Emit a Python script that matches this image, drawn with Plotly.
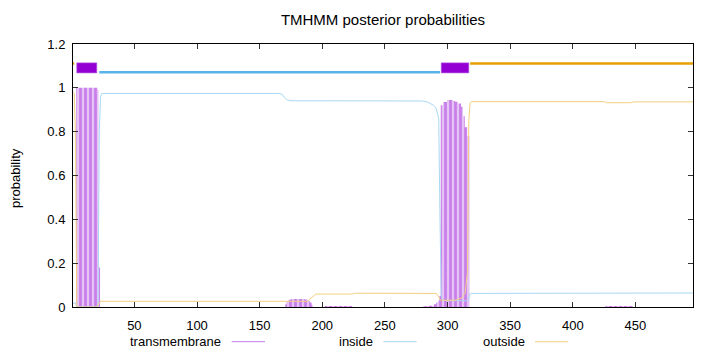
import plotly.graph_objects as go

# ---------------- data ----------------
# transmembrane posterior probability (step breakpoints: residue, probability)
tm_pos = [1, 3.6, 20.6, 21.4, 22.6, 170.5, 171.5, 173, 175, 186, 188, 190, 191.5, 192.5,
          202, 224, 280, 285, 289, 291, 292.5, 293.5, 294.6, 296.4, 299.6, 304.4, 306,
          308.4, 310.8, 312.4, 313.8, 315.8, 317.4, 426, 448, 496]
tm_prob = [0, 1.0, 0.99, 0.18, 0, 0.012, 0.025, 0.033, 0.036, 0.034, 0.028, 0.02, 0.01, 0,
           0.004, 0, 0.003, 0.006, 0.012, 0.02, 0.03, 0.05, 0.92, 0.935, 0.944, 0.94, 0.937,
           0.929, 0.914, 0.87, 0.82, 0.78, 0, 0.005, 0, 0]

# inside posterior probability
ins_pos = [1, 3, 4, 20, 21, 22, 23, 24, 166, 168, 170, 172, 175, 280, 284, 287, 289, 291,
           292, 293, 294, 295, 296, 316, 317, 318, 319, 425, 448, 496]
ins_prob = [0.015, 0.02, 0.0, 0.0, 0.02, 0.8, 0.96, 0.974, 0.974, 0.97, 0.955, 0.945, 0.941,
            0.94, 0.935, 0.928, 0.92, 0.906, 0.885, 0.86, 0.4, 0.05, 0.03, 0.028, 0.04, 0.06,
            0.062, 0.062, 0.064, 0.064]

# outside posterior probability
out_pos = [1, 2, 3, 4, 20, 22, 23, 188, 192, 195, 224, 226, 291, 292, 293, 294, 295, 306,
           311, 314, 315, 316, 317, 318, 319, 425, 427, 446, 449, 496]
out_prob = [0.98, 0.975, 0.77, 0.0, 0.0, 0.02, 0.026, 0.026, 0.045, 0.059, 0.059, 0.063,
            0.062, 0.055, 0.045, 0.034, 0.031, 0.031, 0.04, 0.062, 0.1, 0.16, 0.85, 0.93,
            0.937, 0.937, 0.932, 0.932, 0.936, 0.936]

# predicted topology segments
seg_type = ["outside", "TM", "inside", "TM", "outside"]
seg_start = [1, 4, 22, 295, 318]
seg_end = [2, 20, 294, 317, 496]

x_ticks = [50, 100, 150, 200, 250, 300, 350, 400, 450]
y_ticks = [0, 0.2, 0.4, 0.6, 0.8, 1.0, 1.2]
y_tick_labels = ["0", "0.2", "0.4", "0.6", "0.8", "1", "1.2"]
legend_names = ["transmembrane", "inside", "outside"]

# ---------------- style ----------------
PURPLE = "#9400d3"
BLUE = "#56b4e9"
ORANGE = "#e69f00"
FONT = "Liberation Sans, Arial, sans-serif"

fig = go.Figure()

# transmembrane impulses (striped fill)
fig.add_trace(go.Scatter(
    x=tm_pos, y=tm_prob, mode="lines", line=dict(width=0, shape="hv", color="#c97fe9"),
    fill="tozeroy",
    fillpattern=dict(shape="|", size=5, solidity=0.55, fgcolor="#c97fe9",
                     bgcolor="#e6c3f5", fillmode="replace"),
    hoverinfo="skip"))

# inside
fig.add_trace(go.Scatter(x=ins_pos, y=ins_prob, mode="lines",
                         line=dict(width=1, color="#a9d8f3")))
# outside
fig.add_trace(go.Scatter(x=out_pos, y=out_prob, mode="lines",
                         line=dict(width=1, color="#f2cf80")))

# topology bars
levels = {"inside": 1.071, "outside": 1.111}
tm_box = (1.068, 1.114)
for t, s, e in zip(seg_type, seg_start, seg_end):
    if t == "TM":
        fig.add_trace(go.Scatter(
            x=[s, e, e, s, s], y=[tm_box[0], tm_box[0], tm_box[1], tm_box[1], tm_box[0]],
            mode="lines", fill="toself", fillcolor=PURPLE,
            line=dict(width=0.6, color="#b560e0"), hoverinfo="skip"))
    else:
        fig.add_trace(go.Scatter(
            x=[s, e], y=[levels[t], levels[t]], mode="lines",
            line=dict(width=2.3, color=BLUE if t == "inside" else ORANGE),
            hoverinfo="skip"))

L, R, T, B = 73, 27, 44, 45
W, H = 720, 352
pw, ph = W - L - R, H - T - B


def px(xp):
    return (xp - L) / pw


def py(yp):
    return (H - B - yp) / ph


axis_common = dict(showline=True, linecolor="black", linewidth=1, mirror="ticks",
                   ticks="inside", ticklen=5, tickcolor="#333333", tickwidth=1,
                   showgrid=False, zeroline=False,
                   tickfont=dict(family=FONT, size=13, color="black"))

fig.update_layout(
    width=W, height=H, margin=dict(l=L, r=R, t=T, b=B),
    plot_bgcolor="white", paper_bgcolor="white", showlegend=False,
    font=dict(family=FONT, size=13, color="black"),
    title=dict(text="TMHMM posterior probabilities", x=0.5, xref="paper", xanchor="center",
               y=1 - 20 / H, yref="container", yanchor="middle",
               font=dict(family=FONT, size=15, color="black")),
    xaxis=dict(range=[1, 496], tickvals=x_ticks, ticklabelstandoff=6, **axis_common),
    yaxis=dict(range=[0, 1.2], tickvals=y_ticks, ticktext=y_tick_labels,
               ticklabelstandoff=4, **axis_common),
)

# y axis label
fig.add_annotation(text="probability", xref="paper", yref="paper", x=px(15), y=py(178),
                   textangle=-90, showarrow=False, xanchor="center", yanchor="middle",
                   font=dict(family=FONT, size=13, color="black"))

# legend (gnuplot style: text then sample)
leg_text_right = [222.7, 375, 526.7]
leg_sample = [(231.7, 265), (383.3, 416.7), (535, 568.3)]
leg_colors = ["#c080e8", "#a9d8f3", "#f2cf80"]
leg_y = 341.7
for name, xr, (s0, s1), c in zip(legend_names, leg_text_right, leg_sample, leg_colors):
    fig.add_annotation(text=name, xref="paper", yref="paper", x=px(xr), y=py(leg_y),
                       xanchor="right", yanchor="middle", showarrow=False,
                       font=dict(family=FONT, size=13, color="black"))
    fig.add_shape(type="line", xref="paper", yref="paper", x0=px(s0), x1=px(s1),
                  y0=py(leg_y), y1=py(leg_y), line=dict(color=c, width=1))

fig.write_html("out.html")
